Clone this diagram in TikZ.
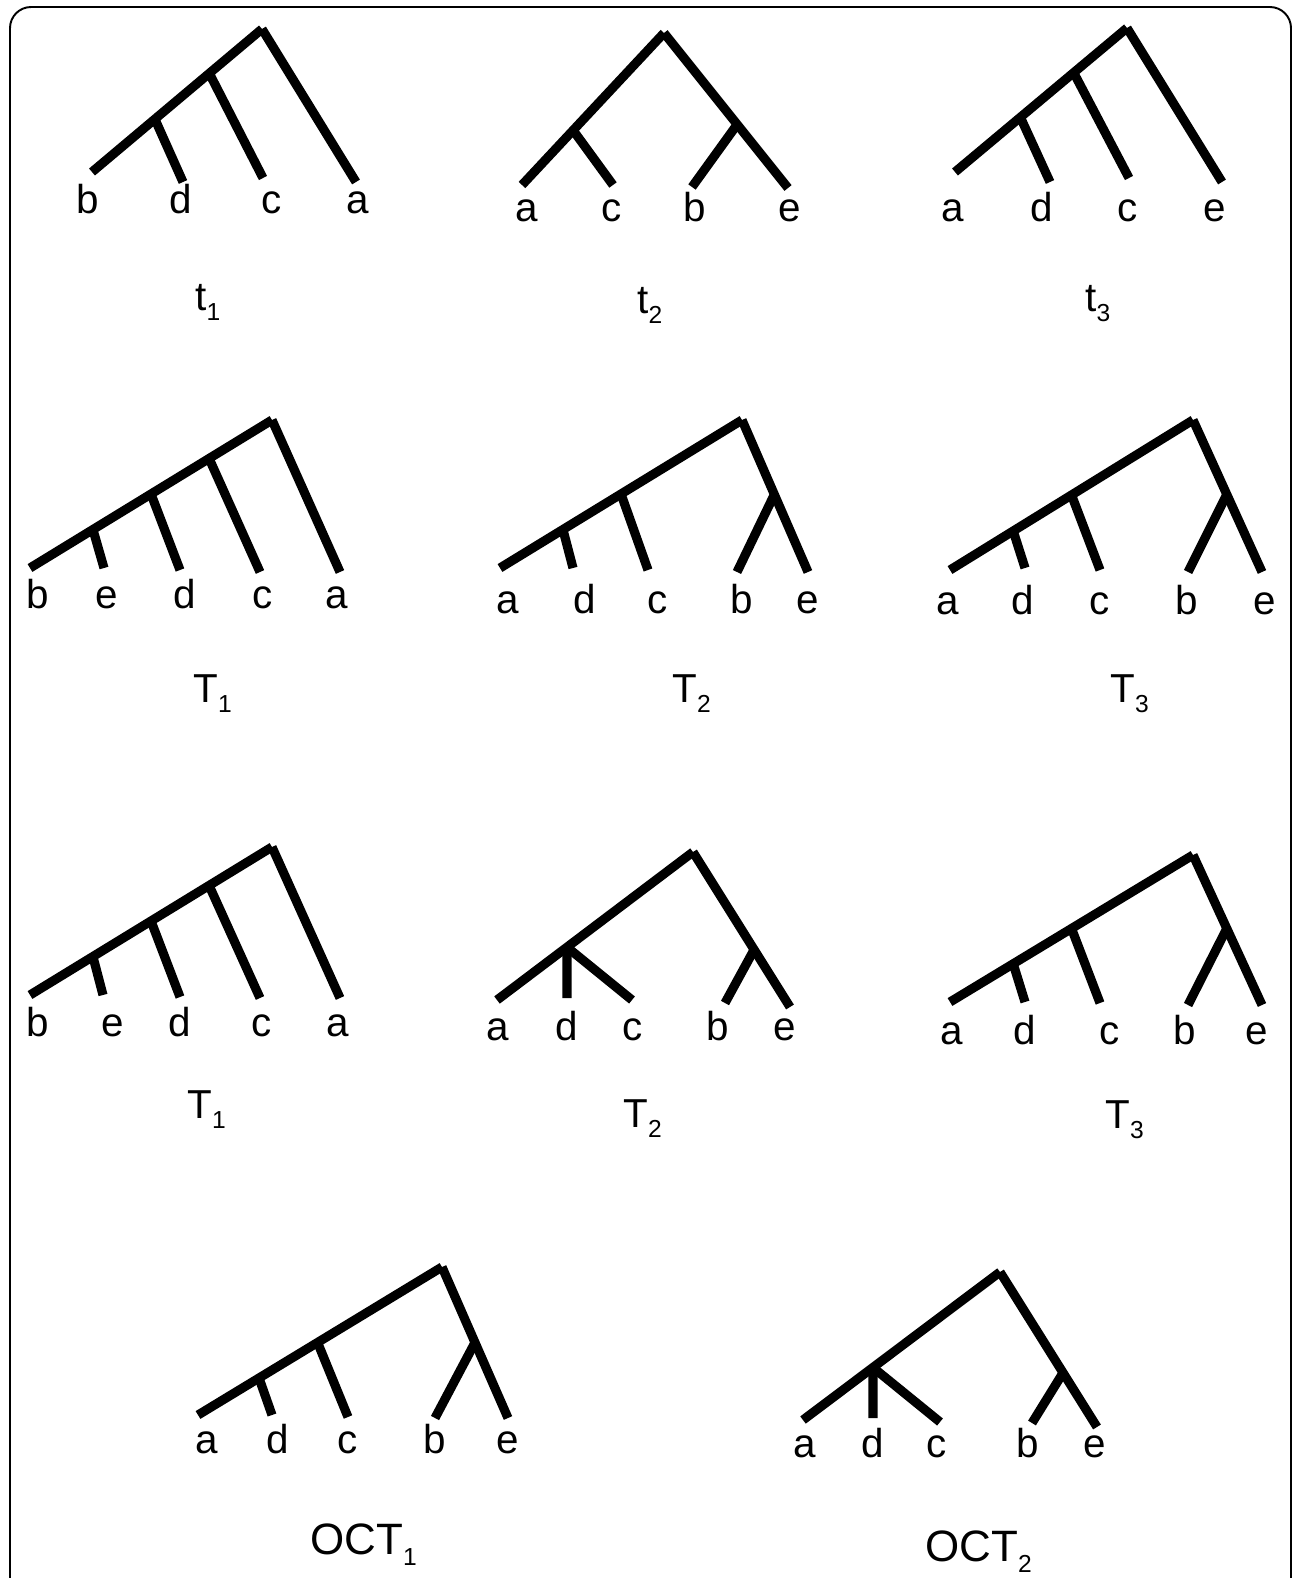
\documentclass[tikz,border=0pt]{standalone}
\usepackage{fontspec}
\setmainfont{Liberation Sans}
\usetikzlibrary{calc}
\newcommand{\subidx}[1]{\raisebox{-0.25em}{\fontsize{14}{14}\selectfont #1}}

\begin{document}
\begin{tikzpicture}[x=0.02cm,y=-0.02cm,
    branch/.style={draw=black,line width=5.2pt},
    leaf/.style={anchor=base,inner sep=0pt,font=\fontsize{23}{27}\selectfont},
    treename/.style={anchor=base west,inner sep=0pt,font=\fontsize{23}{27}\selectfont},
    octname/.style={treename,font=\fontsize{25}{30}\selectfont}]
  \useasboundingbox (0,0) rectangle (1295,1578);
  \draw[line width=1.1pt,rounded corners=12] (10,1578) -- (10,7) -- (1291,7) -- (1291,1578);

  % t1
  \coordinate (t1root) at (262,29);
  \coordinate (t1b) at (92,172);
  \coordinate (t1d) at (183,182);
  \coordinate (t1c) at (263,178);
  \coordinate (t1a) at (356,182);
  \coordinate (t1j1) at ($(t1root)!0.31!(t1b)$);
  \coordinate (t1j2) at ($(t1root)!0.63!(t1b)$);
  \draw[branch] (t1root) -- (t1b);
  \draw[branch] (t1root) -- (t1a);
  \draw[branch] (t1j1) -- (t1c);
  \draw[branch] (t1j2) -- (t1d);
  \foreach \n/\x in {b/88,d/181,c/272,a/358}
    \node[leaf] (t1l\n) at (\x,214) {\n};
  \node[treename] (t1name) at (195,310) {t\subidx{1}};

  % t2
  \coordinate (t2root) at (664,33);
  \coordinate (t2a) at (522,185);
  \coordinate (t2c) at (613,185);
  \coordinate (t2b) at (692,187);
  \coordinate (t2e) at (788,188);
  \coordinate (t2j1) at ($(t2root)!0.64!(t2a)$);
  \coordinate (t2j2) at ($(t2root)!0.59!(t2e)$);
  \draw[branch] (t2root) -- (t2a);
  \draw[branch] (t2root) -- (t2e);
  \draw[branch] (t2j1) -- (t2c);
  \draw[branch] (t2j2) -- (t2b);
  \foreach \n/\x in {a/527,c/612,b/695,e/790}
    \node[leaf] (t2l\n) at (\x,222) {\n};
  \node[treename] (t2name) at (637,313) {t\subidx{2}};

  % t3
  \coordinate (t3root) at (1127,28);
  \coordinate (t3a) at (955,172);
  \coordinate (t3d) at (1050,182);
  \coordinate (t3c) at (1129,178);
  \coordinate (t3e) at (1222,182);
  \coordinate (t3j1) at ($(t3root)!0.31!(t3a)$);
  \coordinate (t3j2) at ($(t3root)!0.62!(t3a)$);
  \draw[branch] (t3root) -- (t3a);
  \draw[branch] (t3root) -- (t3e);
  \draw[branch] (t3j1) -- (t3c);
  \draw[branch] (t3j2) -- (t3d);
  \foreach \n/\x in {a/953,d/1042,c/1128,e/1215}
    \node[leaf] (t3l\n) at (\x,221) {\n};
  \node[treename] (t3name) at (1085,311) {t\subidx{3}};

  % T1, second row
  \coordinate (Taroot) at (272,420);
  \coordinate (Tab) at (30,568);
  \coordinate (Tae) at (104,568);
  \coordinate (Tad) at (180,570);
  \coordinate (Tac) at (260,572);
  \coordinate (Taa) at (340,572);
  \coordinate (Taj1) at ($(Taroot)!0.26!(Tab)$);
  \coordinate (Taj2) at ($(Taroot)!0.50!(Tab)$);
  \coordinate (Taj3) at ($(Taroot)!0.74!(Tab)$);
  \draw[branch] (Taroot) -- (Tab);
  \draw[branch] (Taroot) -- (Taa);
  \draw[branch] (Taj1) -- (Tac);
  \draw[branch] (Taj2) -- (Tad);
  \draw[branch] (Taj3) -- (Tae);
  \foreach \n/\x in {b/38,e/107,d/185,c/263,a/337}
    \node[leaf] (Tal\n) at (\x,608) {\n};
  \node[treename] (Taname) at (193,702) {T\subidx{1}};

  % T2, second row
  \coordinate (Tbroot) at (742,420);
  \coordinate (Tba) at (500,568);
  \coordinate (Tbd) at (573,568);
  \coordinate (Tbc) at (648,570);
  \coordinate (Tbb) at (737,572);
  \coordinate (Tbe) at (808,572);
  \coordinate (Tbj1) at ($(Tbroot)!0.50!(Tba)$);
  \coordinate (Tbj2) at ($(Tbroot)!0.74!(Tba)$);
  \coordinate (Tbj3) at ($(Tbroot)!0.49!(Tbe)$);
  \draw[branch] (Tbroot) -- (Tba);
  \draw[branch] (Tbroot) -- (Tbe);
  \draw[branch] (Tbj1) -- (Tbc);
  \draw[branch] (Tbj2) -- (Tbd);
  \draw[branch] (Tbj3) -- (Tbb);
  \foreach \n/\x in {a/508,d/585,c/658,b/742,e/808}
    \node[leaf] (Tbl\n) at (\x,613) {\n};
  \node[treename] (Tbname) at (672,702) {T\subidx{2}};

  % T3, second row
  \coordinate (Tcroot) at (1193,420);
  \coordinate (Tca) at (950,570);
  \coordinate (Tcd) at (1025,568);
  \coordinate (Tcc) at (1100,570);
  \coordinate (Tcb) at (1188,572);
  \coordinate (Tce) at (1262,572);
  \coordinate (Tcj1) at ($(Tcroot)!0.50!(Tca)$);
  \coordinate (Tcj2) at ($(Tcroot)!0.74!(Tca)$);
  \coordinate (Tcj3) at ($(Tcroot)!0.49!(Tce)$);
  \draw[branch] (Tcroot) -- (Tca);
  \draw[branch] (Tcroot) -- (Tce);
  \draw[branch] (Tcj1) -- (Tcc);
  \draw[branch] (Tcj2) -- (Tcd);
  \draw[branch] (Tcj3) -- (Tcb);
  \foreach \n/\x in {a/948,d/1023,c/1100,b/1187,e/1265}
    \node[leaf] (Tcl\n) at (\x,614) {\n};
  \node[treename] (Tcname) at (1110,702) {T\subidx{3}};

  % T1, third row
  \coordinate (Tdroot) at (272,847);
  \coordinate (Tdb) at (30,995);
  \coordinate (Tde) at (103,995);
  \coordinate (Tdd) at (180,997);
  \coordinate (Tdc) at (260,998);
  \coordinate (Tda) at (340,998);
  \coordinate (Tdj1) at ($(Tdroot)!0.26!(Tdb)$);
  \coordinate (Tdj2) at ($(Tdroot)!0.50!(Tdb)$);
  \coordinate (Tdj3) at ($(Tdroot)!0.74!(Tdb)$);
  \draw[branch] (Tdroot) -- (Tdb);
  \draw[branch] (Tdroot) -- (Tda);
  \draw[branch] (Tdj1) -- (Tdc);
  \draw[branch] (Tdj2) -- (Tdd);
  \draw[branch] (Tdj3) -- (Tde);
  \foreach \n/\x in {b/38,e/113,d/180,c/262,a/338}
    \node[leaf] (Tdl\n) at (\x,1036) {\n};
  \node[treename] (Tdname) at (187,1118) {T\subidx{1}};

  % T2, third row
  \coordinate (Teroot) at (693,852);
  \coordinate (Tea) at (497,1000);
  \coordinate (Ted) at (567,998);
  \coordinate (Tec) at (632,1000);
  \coordinate (Teb) at (725,1003);
  \coordinate (Tee) at (790,1007);
  \coordinate (Tej1) at ($(Teroot)!0.643!(Tea)$);
  \coordinate (Tej2) at ($(Teroot)!0.63!(Tee)$);
  \draw[branch] (Teroot) -- (Tea);
  \draw[branch] (Teroot) -- (Tee);
  \draw[branch] (Tej1) -- (Ted);
  \draw[branch] (Tej1) -- (Tec);
  \draw[branch] (Tej2) -- (Teb);
  \foreach \n/\x in {a/498,d/567,c/633,b/718,e/785}
    \node[leaf] (Tel\n) at (\x,1040) {\n};
  \node[treename] (Tename) at (623,1127) {T\subidx{2}};

  % T3, third row
  \coordinate (Tfroot) at (1193,855);
  \coordinate (Tfa) at (950,1002);
  \coordinate (Tfd) at (1025,1002);
  \coordinate (Tfc) at (1100,1003);
  \coordinate (Tfb) at (1188,1005);
  \coordinate (Tfe) at (1262,1005);
  \coordinate (Tfj1) at ($(Tfroot)!0.50!(Tfa)$);
  \coordinate (Tfj2) at ($(Tfroot)!0.74!(Tfa)$);
  \coordinate (Tfj3) at ($(Tfroot)!0.49!(Tfe)$);
  \draw[branch] (Tfroot) -- (Tfa);
  \draw[branch] (Tfroot) -- (Tfe);
  \draw[branch] (Tfj1) -- (Tfc);
  \draw[branch] (Tfj2) -- (Tfd);
  \draw[branch] (Tfj3) -- (Tfb);
  \foreach \n/\x in {a/952,d/1025,c/1110,b/1185,e/1257}
    \node[leaf] (Tfl\n) at (\x,1044) {\n};
  \node[treename] (Tfname) at (1105,1128) {T\subidx{3}};

  % OCT1
  \coordinate (oaroot) at (442,1267);
  \coordinate (oaa) at (198,1415);
  \coordinate (oad) at (272,1415);
  \coordinate (oac) at (348,1417);
  \coordinate (oab) at (435,1418);
  \coordinate (oae) at (508,1418);
  \coordinate (oaj1) at ($(oaroot)!0.51!(oaa)$);
  \coordinate (oaj2) at ($(oaroot)!0.75!(oaa)$);
  \coordinate (oaj3) at ($(oaroot)!0.50!(oae)$);
  \draw[branch] (oaroot) -- (oaa);
  \draw[branch] (oaroot) -- (oae);
  \draw[branch] (oaj1) -- (oac);
  \draw[branch] (oaj2) -- (oad);
  \draw[branch] (oaj3) -- (oab);
  \foreach \n/\x in {a/207,d/278,c/348,b/435,e/508}
    \node[leaf] (oal\n) at (\x,1453) {\n};
  \node[octname] (oaname) at (310,1554) {OCT\subidx{1}};

  % OCT2
  \coordinate (obroot) at (1000,1272);
  \coordinate (oba) at (803,1420);
  \coordinate (obd) at (873,1418);
  \coordinate (obc) at (940,1422);
  \coordinate (obb) at (1032,1423);
  \coordinate (obe) at (1097,1427);
  \coordinate (obj1) at ($(obroot)!0.645!(oba)$);
  \coordinate (obj2) at ($(obroot)!0.65!(obe)$);
  \draw[branch] (obroot) -- (oba);
  \draw[branch] (obroot) -- (obe);
  \draw[branch] (obj1) -- (obd);
  \draw[branch] (obj1) -- (obc);
  \draw[branch] (obj2) -- (obb);
  \foreach \n/\x in {a/805,d/873,c/937,b/1028,e/1095}
    \node[leaf] (obl\n) at (\x,1457) {\n};
  \node[octname] (obname) at (925,1561) {OCT\subidx{2}};
\end{tikzpicture}
\end{document}
